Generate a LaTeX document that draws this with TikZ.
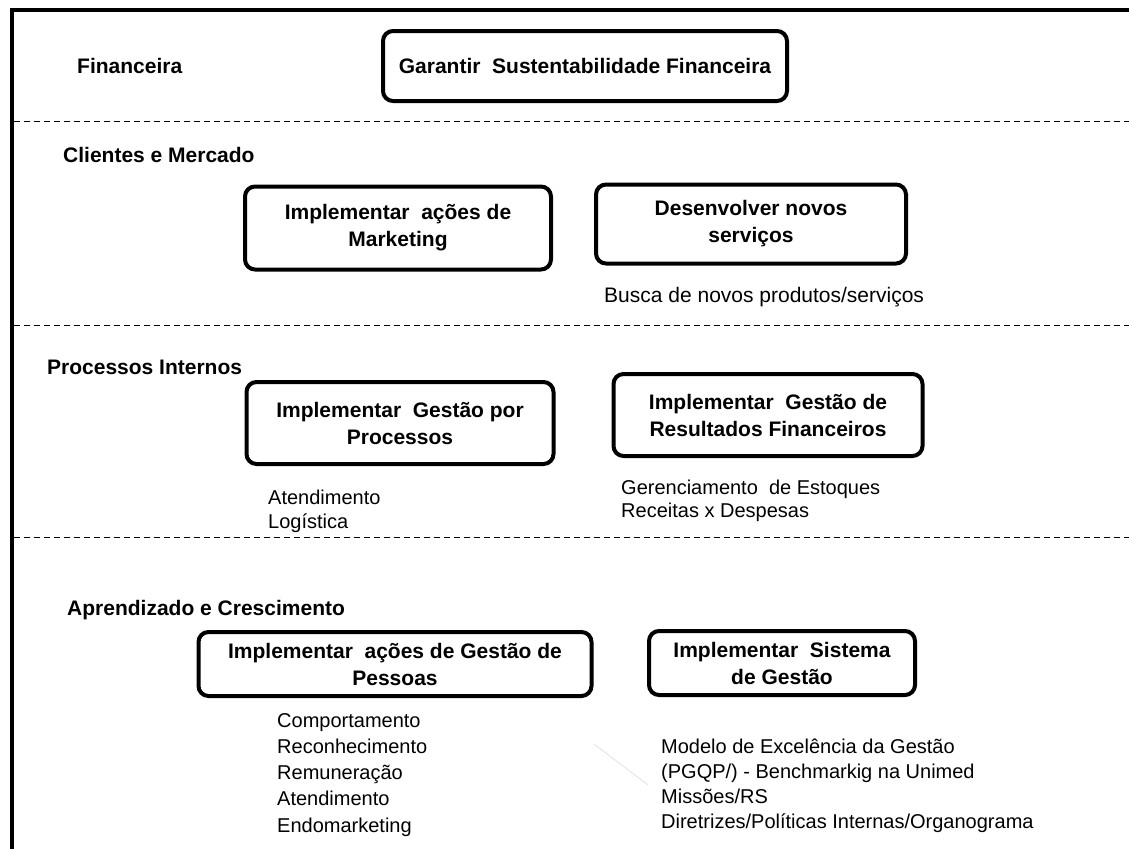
\documentclass[tikz,border=0pt]{standalone}
\usepackage{fontspec}
\setmainfont{Liberation Sans}
\usepackage{tikz}
\usetikzlibrary{positioning}
\tikzset{
    objetivo/.style={draw=black, line width=4pt, rounded corners=10pt, align=center,
        inner sep=0pt, font=\fontsize{21}{27}\selectfont\bfseries},
    perspectiva/.style={anchor=base west, inner sep=0pt,
        font=\fontsize{21}{25}\selectfont\bfseries},
    % base = linha de base da ultima linha
    detalhe/.style={anchor=base west, inner sep=0pt, align=left,
        font=\fontsize{20}{24}\selectfont},
    divisa/.style={draw=black, line width=1pt, dash pattern=on 6pt off 4pt},
}

\begin{document}
\begin{tikzpicture}[x=1pt, y=-1pt]
		\useasboundingbox (0,0) rectangle (1129,849);
		\draw[line width=4pt] (12,849) -- (12,10) -- (1129,10);
		\draw[divisa] (14,121) -- (1129,121);
		\draw[divisa] (14,325) -- (1129,325);
		\draw[divisa] (14,537) -- (1129,537);
		%
		\node[perspectiva] (tfin) at (77,73) {Financeira};
		\node[objetivo, minimum width=404pt, minimum height=70pt] (fin) at (585,66)
			{Garantir\ \ Sustentabilidade Financeira};
		%
		\node[perspectiva] (tcli) at (63,162) {Clientes e Mercado};
		\node[objetivo, minimum width=306pt, minimum height=83pt] (mkt) at (398,228)
			{Implementar\ \ ações de\\ Marketing};
		\node[objetivo, minimum width=310pt, minimum height=79pt] (serv) at (751,224)
			{Desenvolver novos\\ serviços};
		\node[detalhe, font=\fontsize{21}{24}\selectfont] (dserv) at (604,302)
			{Busca de novos produtos/serviços};
		%
		\node[perspectiva] (tproc) at (47,374) {Processos Internos};
		\node[objetivo, minimum width=307pt, minimum height=82pt] (proc) at (400,423)
			{Implementar\ \ Gestão por\\ Processos};
		\node[objetivo, minimum width=309pt, minimum height=82pt] (res) at (768,415)
			{Implementar\ \ Gestão de\\ Resultados Financeiros};
		\node[detalhe] (dproc) at (268,528) {Atendimento\\ Logística};
		\node[detalhe, font=\fontsize{20}{23}\selectfont] (dres) at (621,517)
			{Gerenciamento\ \ de Estoques\\ Receitas x Despesas};
		%
		\node[perspectiva] (tapr) at (67,615) {Aprendizado e Crescimento};
		\node[objetivo, minimum width=393pt, minimum height=64pt] (pess) at (395,664)
			{Implementar\ \ ações de Gestão de\\ Pessoas};
		\node[objetivo, minimum width=266pt, minimum height=64pt] (sist) at (782,663)
			{Implementar\ \ Sistema\\ de Gestão};
		\node[detalhe, font=\fontsize{20}{26.25}\selectfont] (dpess) at (277,832)
			{Comportamento\\ Reconhecimento\\ Remuneração\\ Atendimento\\ Endomarketing};
		\node[detalhe, font=\fontsize{20}{25}\selectfont] (dsist) at (661,828)
			{Modelo de Excelência da Gestão\\ (PGQP/) - Benchmarkig na Unimed\\ Missões/RS\\ Diretrizes/Políticas Internas/Organograma};
		\draw[black!12, line width=0.8pt] (594,744) -- (648,785);
	\end{tikzpicture}
\end{document}
